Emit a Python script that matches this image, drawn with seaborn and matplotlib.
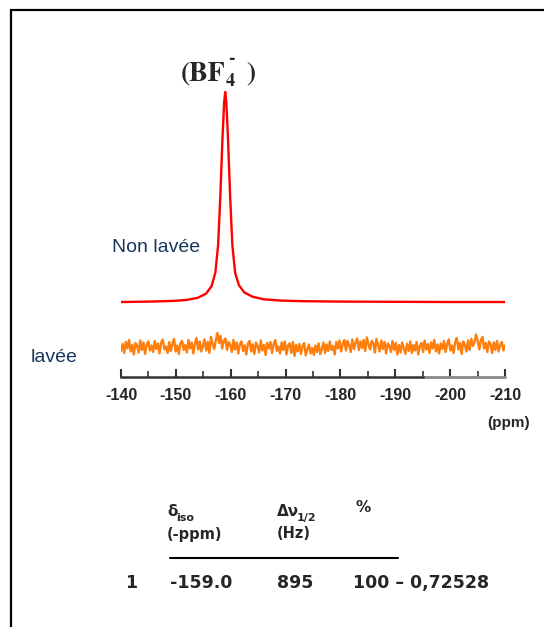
import numpy as np
import pandas as pd
import matplotlib
matplotlib.use("Agg")
import matplotlib.pyplot as plt
import matplotlib.patches as patches
import seaborn as sns

# ==============================
# Data
# ==============================

# "Non lavée" spectrum: ppm / normalised intensity
non_lavee_ppm = [-140, -145, -148, -150, -152, -154, -155.5, -156.5, -157.2, -157.7,
                 -158.1, -158.5, -158.8, -159.0, -159.2, -159.5, -159.9, -160.3,
                 -160.8, -161.5, -162.5, -164, -166, -169, -173, -180, -190, -200, -210]
non_lavee_int = [0.0, 0.002, 0.004, 0.006, 0.01, 0.02, 0.04, 0.075, 0.14, 0.27,
                 0.5, 0.78, 0.95, 1.0, 0.95, 0.78, 0.5, 0.27,
                 0.14, 0.08, 0.045, 0.025, 0.013, 0.007, 0.004, 0.002, 0.001, 0.0, 0.0]

# "lavée" spectrum: only noise, sampled evenly from -140 to -210 ppm
# (values in units of 1/420 of the BF4- peak height)
lavee_noise = [
    -8, 6, -12, 10, -3, 14, -9, 4, -15, 8, 2, -11, 13, -6, 9, -14, 5, 11, -7, 3,
    -10, 12, -4, 7, -13, 9, 15, -5, 1, -12, 10, -8, 6, 16, -9, 3, -14, 8, 12, -6,
    4, -11, 14, -3, 9, -13, 7, 18, -5, 11, -9, 2, 15, -7, 10, -12, 20, 6, -4, 13,
    28, 8, 22, -3, 12, 17, -6, 10, 4, -10, 14, -5, 9, -13, 6, 11, -8, 3, -15, 7,
    12, -9, 5, -14, 9, 2, -11, 13, -7, 4, -16, 8, -3, 10, -12, 6, 14, -8, 1, -13,
    9, -6, 11, -15, 3, 7, -12, 10, -18, 4, -9, 6, -14, 2, 8, -17, -5, 5, -13, -2,
    -16, 3, -10, 7, -14, -4, 9, -12, 5, -8, 11, -6, 2, -15, 10, -3, 13, -9, 6, 14,
    -7, 12, 4, -10, 15, -4, 9, 17, -6, 11, -2, 14, -8, 19, 5, -5, 12, 8, -11, 16,
    3, -9, 13, -4, 10, -13, 7, 2, -10, 12, -6, 8, -15, 4, -11, 9, -3, -14, 6, -8,
    11, -12, 4, -7, 10, -15, 2, 8, -10, 13, -5, 6, -12, 9, -3, 14, -9, 5, -13, 7,
    -4, 12, -10, 6, 15, -7, 3, -12, 10, 18, -5, 8, -14, 11, 4, -9, 13, -6, 16, 2,
    9, 25, 12, -5, 14, 20, -3, 8, -10, 11, 5, -12, 9, -6, 12, -9, 4, 10, -7, 3,
]

tick_values = [-140, -150, -160, -170, -180, -190, -200, -210]
tick_labels = ["-140", "-150", "-160", "-170", "-180", "-190", "-200", "-210"]

# table under the spectrum
table_header1 = ["δ", "Δν", "%"]
table_header_sub = ["iso", "1/2", ""]
table_header2 = ["(-ppm)", "(Hz)", ""]
table_row = ["1", "-159.0", "895", "100 – 0,72528"]

# ==============================
# Build frames
# ==============================

df_non = pd.DataFrame({"ppm": non_lavee_ppm, "intensity": non_lavee_int})
df_lav = pd.DataFrame({
    "ppm": np.linspace(-140, -210, len(lavee_noise)),
    "intensity": np.array(lavee_noise) / 420.0,
})

LAVEE_OFFSET = -0.214

# ==============================
# Plot
# ==============================

sns.set_style("white")
plt.rcParams["font.family"] = ["Liberation Sans", "DejaVu Sans"]
plt.rcParams["axes.unicode_minus"] = False

W, H = 544, 627
fig = plt.figure(figsize=(W / 100, H / 100), dpi=100)


def px(x, y):
    return x / W, 1 - y / H


ax = fig.add_axes([121 / W, (H - 377) / H, 384 / W, (377 - 80) / H])

sns.lineplot(data=df_non, x="ppm", y="intensity", ax=ax, color="#ff0000",
             lw=1.7, estimator=None, sort=False)
sns.lineplot(x=df_lav["ppm"], y=df_lav["intensity"] + LAVEE_OFFSET, ax=ax,
             color="#ff7f0e", lw=1.7, estimator=None, sort=False)

ax.set_xlim(-140, -210)
ax.set_ylim(-0.357, 1.057)
ax.set_xlabel("")
ax.set_ylabel("")
ax.set_yticks([])
for s in ["left", "right", "top"]:
    ax.spines[s].set_visible(False)
ax.spines["bottom"].set_color("#333333")
ax.spines["bottom"].set_linewidth(1.8)
ax.spines["bottom"].set_bounds(-140, -195)
ax.axhline(-0.357, xmin=55 / 70, xmax=1, color="#8a8a8a", lw=2.0, clip_on=False)

ax.set_xticks(tick_values)
ax.set_xticklabels(tick_labels, fontweight="bold", fontsize=11.5)
ax.set_xticks(np.arange(-145, -210, -10), minor=True)
ax.tick_params(axis="x", which="both", bottom=True)
ax.tick_params(axis="x", which="major", direction="in", length=6, width=1.5,
               color="#333333", pad=8)
ax.tick_params(axis="x", which="minor", direction="in", length=4, width=1.2,
               color="#333333")

# labels
fig.text(*px(509, 423), "(ppm)", ha="center", va="center",
         fontweight="bold", fontsize=11)
fig.text(*px(156, 248), "Non lavée", ha="center", va="center",
         fontsize=14, color="#17365d")
fig.text(*px(54, 357), "lavée", ha="center", va="center",
         fontsize=14, color="#17365d")

# title (BF4-) built from pieces so the charge is a short hyphen
SERIF = "STIXGeneral"
fig.text(*px(181, 80), "(BF", ha="left", va="baseline", fontsize=20,
         family=SERIF, fontweight="bold")
fig.text(*px(226, 86), "4", ha="left", va="baseline", fontsize=13,
         family=SERIF, fontweight="bold")
fig.text(*px(228, 63), "-", ha="left", va="baseline", fontsize=14,
         family=SERIF, fontweight="bold")
fig.text(*px(246, 80), ")", ha="left", va="baseline", fontsize=20,
         family=SERIF, fontweight="bold")

# table
TF = "DejaVu Sans"
col_x = [167, 277, 355]
sub_dx = [9, 20, 0]
for x, dx, h1, sub, h2 in zip(col_x, sub_dx, table_header1, table_header_sub,
                              table_header2):
    fig.text(*px(x, 511 if h1 != "%" else 507), h1, ha="left", va="center",
             fontweight="bold", fontsize=11, family=TF)
    if sub:
        fig.text(*px(x + dx, 518), sub, ha="left", va="center",
                 fontweight="bold", fontsize=8, family=TF)
    if h2:
        fig.text(*px(x, 534), h2, ha="left", va="center", fontweight="bold",
                 fontsize=10.5, family=TF)

fig.add_artist(plt.Line2D([170 / W, 398 / W], [1 - 558 / H, 1 - 558 / H],
                          color="black", lw=1.5))
row_x = [125, 170, 277, 353]
for x, t in zip(row_x, table_row):
    fig.text(*px(x, 583), t, ha="left", va="center", fontweight="bold",
             fontsize=12.5, family=TF)

# outer frame (only top and left visible)
fig.add_artist(patches.Rectangle(px(11, 700), 2, (700 - 10) / H, fill=False,
                                 lw=1.6, edgecolor="black",
                                 transform=fig.transFigure, clip_on=False))

fig.savefig("out.png", dpi=100)
